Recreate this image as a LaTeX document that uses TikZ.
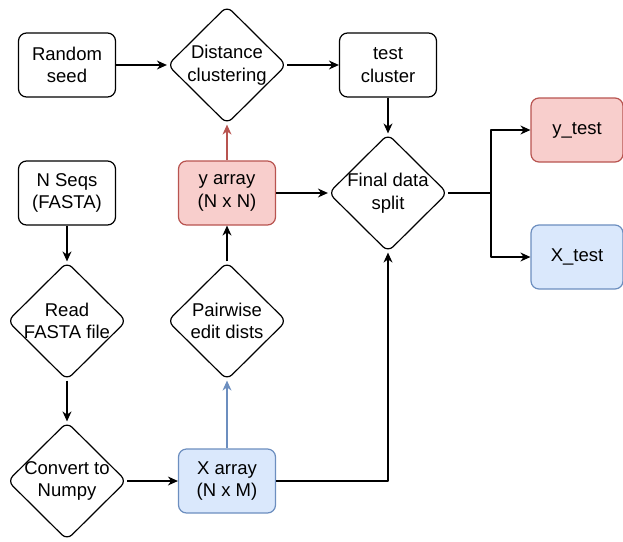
\documentclass[tikz,border=0pt]{standalone}
\usepackage{fontspec}
\setmainfont{Liberation Sans}
\usetikzlibrary{arrows.meta,shapes.geometric}
\definecolor{redfill}{HTML}{F8CECC}
\definecolor{redline}{HTML}{B85450}
\definecolor{bluefill}{HTML}{DAE8FC}
\definecolor{blueline}{HTML}{6C8EBF}
\tikzset{
  every picture/.style={font=\fontsize{18.5}{22.5}\selectfont, line join=round, >=Stealth},
  box/.style={draw, rounded corners=8pt, minimum width=97pt, minimum height=64pt, align=center, line width=1.2pt},
  redbox/.style={box, fill=redfill, draw=redline},
  bluebox/.style={box, fill=bluefill, draw=blueline},
  dia/.style={draw, diamond, rounded corners=7pt, minimum width=119pt, minimum height=118pt, inner sep=0pt, line width=1.2pt},
  txt/.style={align=center, inner sep=0pt},
  arr/.style={line width=1.2pt, -{Stealth[length=10pt,width=9pt]}},
}

\begin{document}
\begin{tikzpicture}[x=1pt,y=-1pt]
\useasboundingbox (0,0) rectangle (623,541);
% top row
\node[box] (seed) at (67,65) {Random\\seed};
\node[dia] (clust) at (227,65) {};
\node[txt] at (clust) {Distance\\clustering};
\node[box] (tcl) at (388,65) {test\\cluster};
% middle
\node[box] (seqs) at (67,193) {N Seqs\\(FASTA)};
\node[redbox] (yarr) at (227,193) {y array\\(N x N)};
\node[dia] (split) at (388,193) {};
\node[txt] at (split) {Final data\\split};
\node[redbox, minimum width=92pt] (ytest) at (577,130) {y\_test};
\node[bluebox, minimum width=92pt] (xtest) at (577,257) {X\_test};
% lower
\node[dia] (read) at (67,321) {};
\node[txt] at (read) {Read\\FASTA file};
\node[dia] (pair) at (227,321) {};
\node[txt] at (pair) {Pairwise\\edit dists};
\node[dia] (conv) at (67,481) {};
\node[txt] at (conv) {Convert to\\Numpy};
\node[bluebox] (xarr) at (227,481) {X array\\(N x M)};
\coordinate (fork) at (491,193);
% connectors
\draw[arr] (seed) -- (clust);
\draw[arr] (clust) -- (tcl);
\draw[arr] (tcl) -- (split);
\draw[arr] (yarr) -- (split);
\draw[arr] (split.east) -- (fork) |- (ytest.west);
\draw[arr] (fork) |- (xtest.west);
\draw[arr] (seqs) -- (read);
\draw[arr] (read) -- (conv);
\draw[arr] (conv) -- (xarr);
\draw[arr] (pair) -- (yarr);
\draw[arr, draw=redline, fill=redline] (yarr) -- (clust);
\draw[arr, draw=blueline, fill=blueline] (xarr) -- (pair);
\draw[arr] (xarr.east) -| (split.south);
\end{tikzpicture}
\end{document}
